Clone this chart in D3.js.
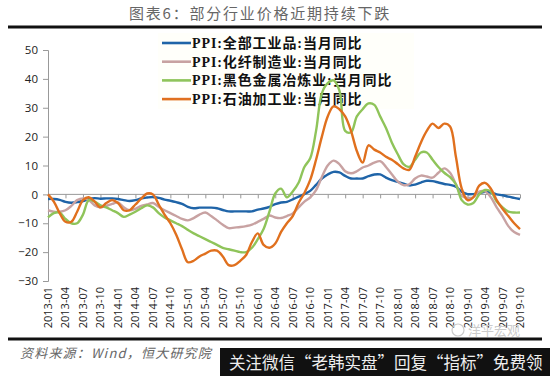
<!DOCTYPE html>
<html>
<head>
<meta charset="utf-8">
<script src="https://cdn.jsdelivr.net/npm/d3@7"></script>
<style>
  body { margin: 0; background: #fff; }
  svg { display: block; }
</style>
</head>
<body>
<div id="chart"></div>
<script>
// 月份：2013-01 到 2019-10
const months = [];
for (let y = 2013; y <= 2019; y++) {
  for (let m = 1; m <= 12; m++) {
    if (y === 2019 && m > 10) break;
    months.push(y + "-" + String(m).padStart(2, "0"));
  }
}
const tickMonths = months.filter((d, i) => i % 3 === 0);
const yTicks = [-30, -20, -10, 0, 10, 20, 30, 40, 50];

const seriesNames = [
  "PPI:全部工业品:当月同比",
  "PPI:化纤制造业:当月同比",
  "PPI:黑色金属冶炼业:当月同比",
  "PPI:石油加工业:当月同比"
];

const allIndustry = [
  -1.6, -1.6, -1.9, -2.6, -2.9, -2.7, -2.3, -1.6, -1.3, -1.5, -1.4, -1.4,
  -1.6, -2.0, -2.3, -2.0, -1.4, -1.1, -0.9, -1.2, -1.8, -2.2, -2.7, -3.3,
  -4.3, -4.8, -4.6, -4.6, -4.6, -4.8, -5.4, -5.9, -5.9, -5.9, -5.9, -5.9,
  -5.3, -4.9, -4.3, -3.4, -2.8, -2.6, -1.7, -0.8, 0.1, 1.2, 3.3, 5.5,
  6.9, 7.8, 7.6, 6.4, 5.5, 5.5, 5.5, 6.3, 6.9, 6.9, 5.8, 4.9,
  4.3, 3.7, 3.1, 3.4, 4.1, 4.7, 4.6, 4.1, 3.6, 3.3, 2.7, 0.9,
  0.1, 0.1, 0.4, 0.9, 0.6, 0.0, -0.3, -0.8, -1.2, -1.6
];
const chemFiber = [
  -5.5, -6, -6, -5.5, -4, -2, -1.4, -2, -3.8, -4.5, -4, -3.3,
  -2.8, -4.5, -5.5, -5, -4, -3.5, -3, -4.3, -5.5, -6.5, -7.5, -8.5,
  -9, -8.2, -7, -6.3, -7.5, -9, -10.5, -11.7, -11.5, -11.3, -11, -10.5,
  -9.5, -8.5, -7.3, -8, -8.2, -7.5, -6.6, -4.5, -2.5, -1, 1.5, 6,
  10, 11.7, 10.5, 8, 7.3, 8, 9.3, 10, 11, 11.5, 9.5, 7,
  4.5, 3.2, 3.5, 5.5, 6.5, 6.2, 5.8, 7.5, 9, 7.5, 3.5, -0.5,
  -1.2, -1, 1, 1, -1, -4.5, -7.5, -11, -13, -14
];
const ferrous = [
  -8, -6.5, -6.3, -8.5, -10, -10, -7, -2, -2.5, -3.8, -4.5, -5.5,
  -6.5, -7.8, -7, -6, -4.8, -3.8, -4.5, -6.5, -8, -9, -10, -11,
  -12.3, -13.5, -14.5, -15.5, -16.5, -17.5, -18.5, -19, -19.5, -20, -20, -18.5,
  -15.5, -12, -6, 0.3, 2, -1, 1, 4, 9.5, 12.5, 22, 35,
  38.5, 39.5, 36, 22, 21.5, 27, 29.5, 31.5, 31, 27, 23, 18,
  14, 10.5, 9.5, 12, 14.5, 14.5, 12, 9.5, 7.5, 6, 3.5, -2,
  -3.5, -3, 0, 1.5, 1, -2.5, -4.5, -6, -6.3, -6.3
];
const petroleum = [
  0, -2.5, -6.5, -9.5, -9.5, -6, -2, -1, -2.5, -4.5, -3, -2,
  -3, -5.5, -5.5, -3.5, -1.5, 0.3, 0, -3.5, -7, -10, -14, -19,
  -23.5, -23, -21.5, -20.5, -19.5, -19.5, -21.5, -24.5, -24.5, -23, -21, -16.5,
  -13.5, -17.5, -18.5, -17, -13, -10, -7.5, -3, 0.5, 5, 12, 20,
  27, 30.5, 29.5, 27, 22, 15, 11, 17, 15.5, 14.5, 13, 12,
  10.5, 9, 8.5, 13, 18, 22, 24.5, 23, 24.5, 23.5, 13, 2,
  -2, -1, 3, 4, 2, -2, -5, -7.5, -10, -12
];

const colors = ["#1f64a8", "#c8a2a2", "#8fc45a", "#e0701e"];
const seriesData = [allIndustry, chemFiber, ferrous, petroleum];

const W = 550, H = 376;
const svg = d3.select("#chart").append("svg").attr("width", W).attr("height", H);

// 标题
svg.append("text")
  .attr("x", 260).attr("y", 19)
  .attr("text-anchor", "middle")
  .attr("font-family", "'Noto Sans CJK SC', sans-serif")
  .attr("font-size", 15)
  .attr("letter-spacing", 1.8)
  .attr("fill", "#666")
  .text("图表6：部分行业价格近期持续下跌");

svg.append("rect").attr("x", 8).attr("y", 25.5).attr("width", 534).attr("height", 3).attr("fill", "#111");
svg.append("rect").attr("x", 8).attr("y", 337.5).attr("width", 534).attr("height", 3).attr("fill", "#111");

const x = d3.scalePoint().domain(months).range([48, 520]);
const y = d3.scaleLinear().domain([-30, 50]).range([281, 50]);

// Y 轴
const yAxis = svg.append("g")
  .attr("transform", "translate(48,0)")
  .call(d3.axisLeft(y).tickValues(yTicks).tickSize(5).tickPadding(5));
yAxis.select(".domain").attr("stroke", "#999");
yAxis.selectAll(".tick line").attr("stroke", "#999");
yAxis.selectAll("text")
  .attr("font-family", "'Open Sans', 'DejaVu Sans', sans-serif")
  .attr("font-size", 11.5)
  .attr("fill", "#222");

// 零线（X 轴）
const xAxis = svg.append("g")
  .attr("transform", `translate(0,${y(0)})`)
  .call(d3.axisBottom(x).tickValues(tickMonths).tickSize(4).tickFormat(""));
xAxis.select(".domain").attr("stroke", "#999").attr("d", `M48,0H520`);
xAxis.selectAll(".tick line").attr("stroke", "#999");

// X 标签
svg.append("g").selectAll("text")
  .data(tickMonths)
  .enter()
  .append("text")
  .attr("transform", d => `translate(${x(d) + 4},287) rotate(-90)`)
  .attr("text-anchor", "end")
  .attr("font-family", "'Open Sans', 'DejaVu Sans', sans-serif")
  .attr("font-size", 11)
  .attr("fill", "#222")
  .text(d => d);

// 图例
const legend = svg.append("g");
legend.append("rect")
  .attr("x", 158).attr("y", 33).attr("width", 256).attr("height", 76)
  .attr("fill", "#fffffa");
seriesNames.forEach((name, i) => {
  const ly = 43 + i * 18.7;
  legend.append("line")
    .attr("x1", 162).attr("x2", 191).attr("y1", ly).attr("y2", ly)
    .attr("stroke", colors[i]).attr("stroke-width", 2.6);
  legend.append("text")
    .attr("x", 192).attr("y", ly + 5)
    .attr("font-family", "'Liberation Serif', 'Noto Sans CJK SC', serif")
    .attr("font-weight", "bold")
    .attr("font-size", 14)
    .attr("letter-spacing", 0.9)
    .attr("fill", "#111")
    .text(name);
});

// 折线
const line = d3.line()
  .x((d, i) => x(months[i]))
  .y(d => y(d))
  .curve(d3.curveCatmullRom.alpha(0.5));

svg.append("g").selectAll("path")
  .data(seriesData)
  .enter()
  .append("path")
  .attr("d", d => line(d))
  .attr("fill", "none")
  .attr("stroke", (d, i) => colors[i])
  .attr("stroke-width", 2.4)
  .attr("stroke-linejoin", "round");

// 资料来源
svg.append("text")
  .attr("x", 20).attr("y", 358)
  .attr("font-family", "'Noto Sans CJK SC', sans-serif")
  .attr("font-style", "italic")
  .attr("font-size", 13)
  .attr("letter-spacing", 1.2)
  .attr("fill", "#666")
  .text("资料来源：Wind，恒大研究院");

// 水印
svg.append("text")
  .attr("x", 468).attr("y", 335)
  .attr("font-family", "'Noto Sans CJK SC', sans-serif")
  .attr("font-size", 13)
  .attr("fill", "#ccc")
  .text("洋平宏观");
svg.append("circle").attr("cx", 458).attr("cy", 330).attr("r", 6)
  .attr("fill", "none").attr("stroke", "#ccc").attr("stroke-width", 1.2);

svg.append("rect").attr("x", 220).attr("y", 348).attr("width", 330).attr("height", 28).attr("fill", "#111");
svg.append("text")
  .attr("x", 229).attr("y", 369)
  .attr("font-family", "'Noto Sans CJK SC', sans-serif")
  .attr("font-size", 16.5)
  .attr("fill", "#eee")
  .text("关注微信“老韩实盘”回复“指标”免费领");
</script>
</body>
</html>
